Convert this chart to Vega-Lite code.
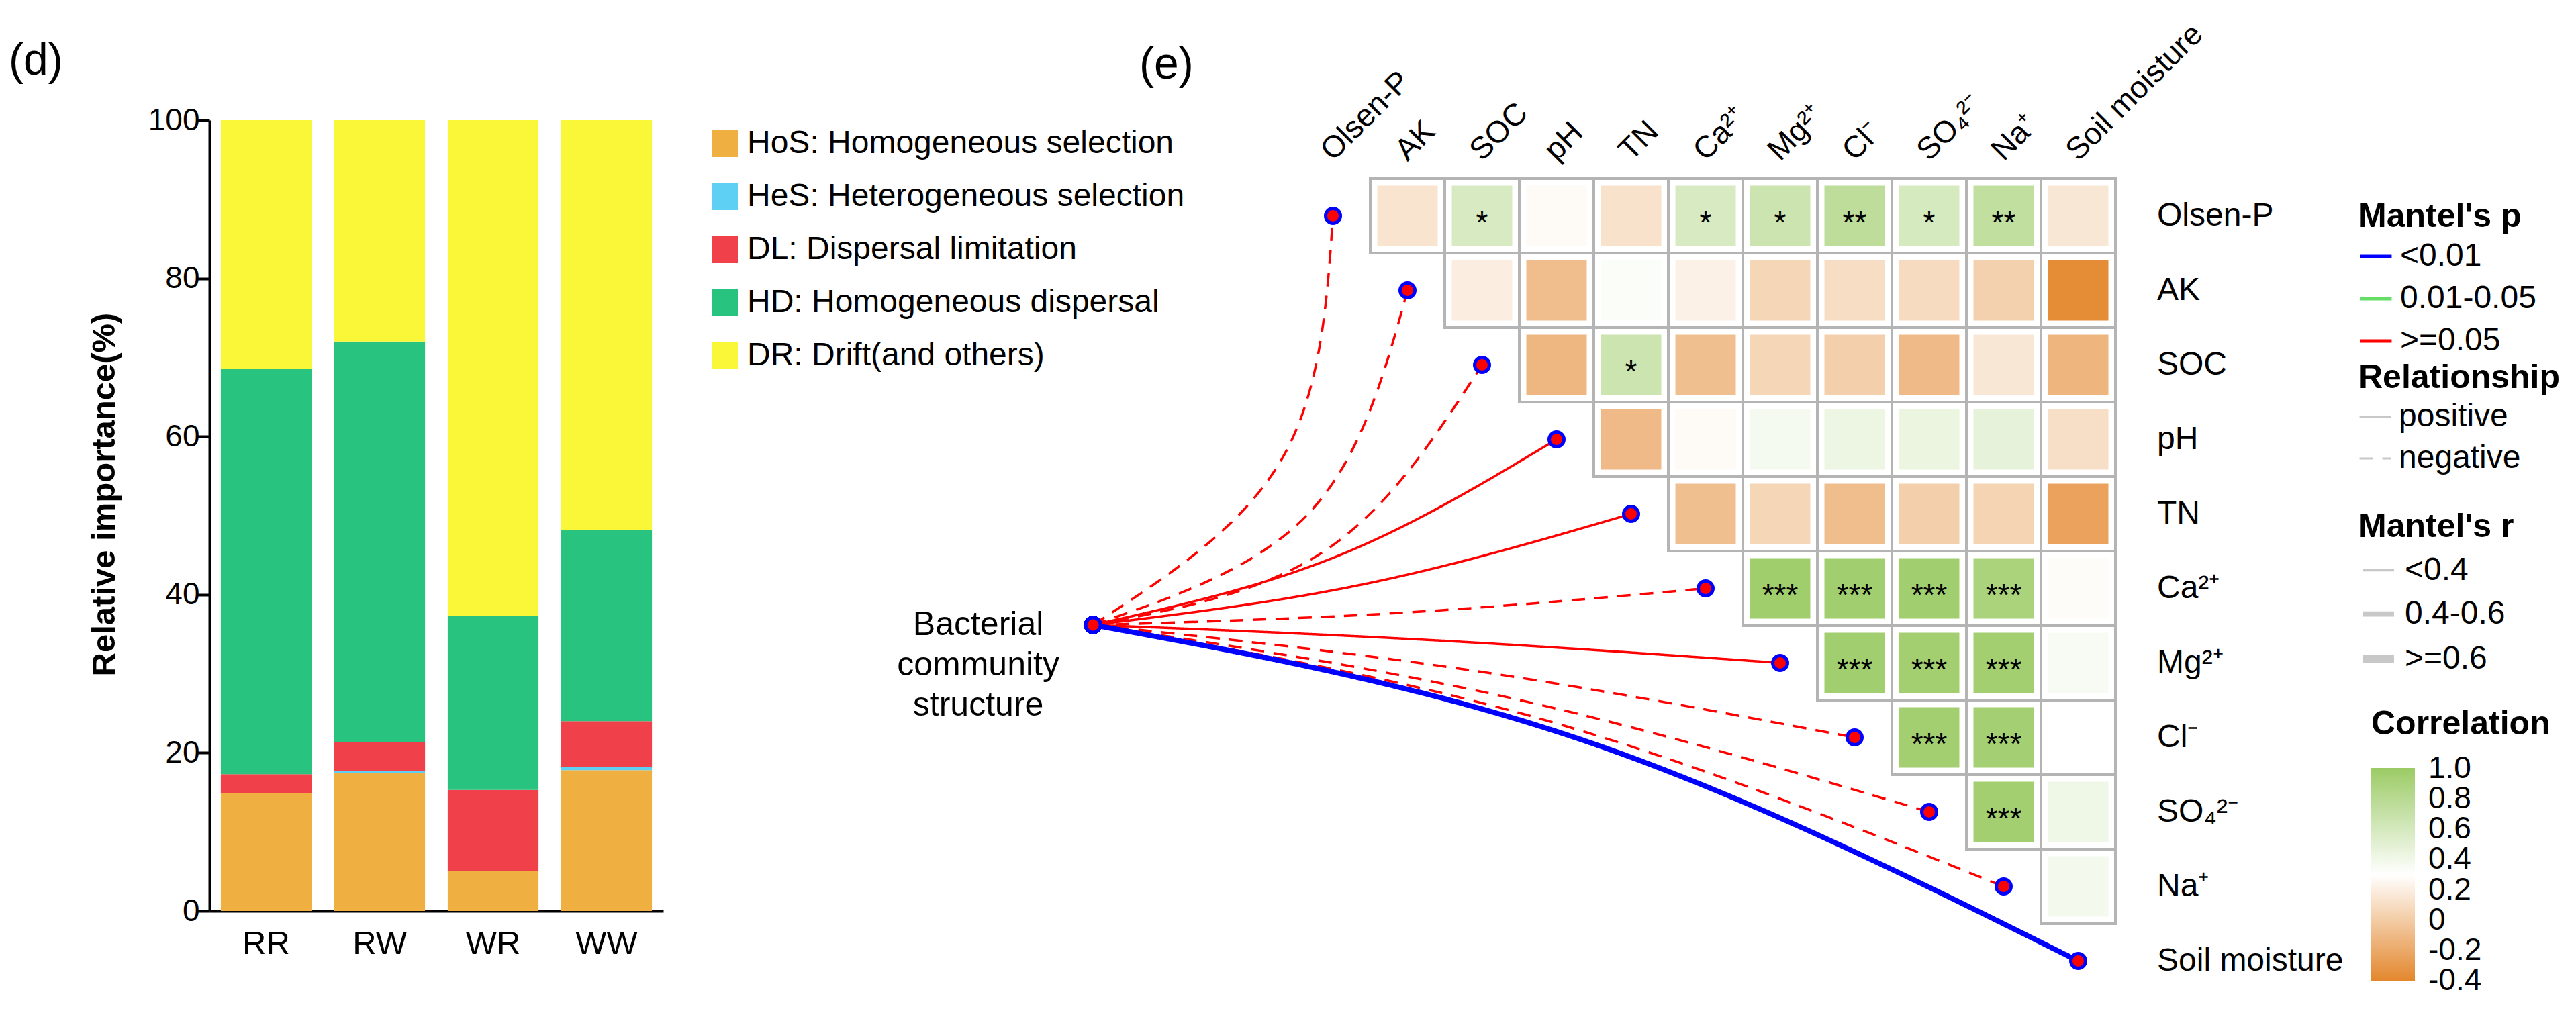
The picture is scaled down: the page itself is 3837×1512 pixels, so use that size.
{
  "$schema": "https://vega.github.io/schema/vega-lite/v6.json",
  "background": "white",
  "padding": {"left": 13, "top": 27, "right": 5, "bottom": 5},
  "bounds": "flush",
  "spacing": 331.5,
  "config": {
    "font": "Liberation Sans",
    "view": {"stroke": null},
    "legend": {"labelColor": "black", "titleColor": "black"}
  },
  "datasets": {
    "bars": [
      {"treatment": "RR", "process": "HoS: Homogeneous selection", "ord": 0, "importance": 14.9},
      {"treatment": "RR", "process": "HeS: Heterogeneous selection", "ord": 1, "importance": 0},
      {"treatment": "RR", "process": "DL: Dispersal limitation", "ord": 2, "importance": 2.4},
      {"treatment": "RR", "process": "HD: Homogeneous dispersal", "ord": 3, "importance": 51.3},
      {"treatment": "RR", "process": "DR: Drift(and others)", "ord": 4, "importance": 31.4},
      {"treatment": "RW", "process": "HoS: Homogeneous selection", "ord": 0, "importance": 17.4},
      {"treatment": "RW", "process": "HeS: Heterogeneous selection", "ord": 1, "importance": 0.35},
      {"treatment": "RW", "process": "DL: Dispersal limitation", "ord": 2, "importance": 3.65},
      {"treatment": "RW", "process": "HD: Homogeneous dispersal", "ord": 3, "importance": 50.6},
      {"treatment": "RW", "process": "DR: Drift(and others)", "ord": 4, "importance": 28.0},
      {"treatment": "WR", "process": "HoS: Homogeneous selection", "ord": 0, "importance": 5.1},
      {"treatment": "WR", "process": "HeS: Heterogeneous selection", "ord": 1, "importance": 0},
      {"treatment": "WR", "process": "DL: Dispersal limitation", "ord": 2, "importance": 10.2},
      {"treatment": "WR", "process": "HD: Homogeneous dispersal", "ord": 3, "importance": 22.0},
      {"treatment": "WR", "process": "DR: Drift(and others)", "ord": 4, "importance": 62.7},
      {"treatment": "WW", "process": "HoS: Homogeneous selection", "ord": 0, "importance": 17.8},
      {"treatment": "WW", "process": "HeS: Heterogeneous selection", "ord": 1, "importance": 0.4},
      {"treatment": "WW", "process": "DL: Dispersal limitation", "ord": 2, "importance": 5.8},
      {"treatment": "WW", "process": "HD: Homogeneous dispersal", "ord": 3, "importance": 24.2},
      {"treatment": "WW", "process": "DR: Drift(and others)", "ord": 4, "importance": 51.8}
    ],
    "cells": [
      {"row": 0, "col": 1, "r": 0.14, "sig": ""},
      {"row": 0, "col": 2, "r": 0.58, "sig": "*"},
      {"row": 0, "col": 3, "r": 0.27, "sig": ""},
      {"row": 0, "col": 4, "r": 0.13, "sig": ""},
      {"row": 0, "col": 5, "r": 0.58, "sig": "*"},
      {"row": 0, "col": 6, "r": 0.66, "sig": "*"},
      {"row": 0, "col": 7, "r": 0.76, "sig": "**"},
      {"row": 0, "col": 8, "r": 0.59, "sig": "*"},
      {"row": 0, "col": 9, "r": 0.74, "sig": "**"},
      {"row": 0, "col": 10, "r": 0.16, "sig": ""},
      {"row": 1, "col": 2, "r": 0.2, "sig": ""},
      {"row": 1, "col": 3, "r": -0.08, "sig": ""},
      {"row": 1, "col": 4, "r": 0.33, "sig": ""},
      {"row": 1, "col": 5, "r": 0.22, "sig": ""},
      {"row": 1, "col": 6, "r": 0.06, "sig": ""},
      {"row": 1, "col": 7, "r": 0.1, "sig": ""},
      {"row": 1, "col": 8, "r": 0.09, "sig": ""},
      {"row": 1, "col": 9, "r": 0.03, "sig": ""},
      {"row": 1, "col": 10, "r": -0.37, "sig": ""},
      {"row": 2, "col": 3, "r": -0.12, "sig": ""},
      {"row": 2, "col": 4, "r": 0.66, "sig": "*"},
      {"row": 2, "col": 5, "r": -0.07, "sig": ""},
      {"row": 2, "col": 6, "r": 0.06, "sig": ""},
      {"row": 2, "col": 7, "r": 0.02, "sig": ""},
      {"row": 2, "col": 8, "r": -0.1, "sig": ""},
      {"row": 2, "col": 9, "r": 0.16, "sig": ""},
      {"row": 2, "col": 10, "r": -0.13, "sig": ""},
      {"row": 3, "col": 4, "r": -0.1, "sig": ""},
      {"row": 3, "col": 5, "r": 0.27, "sig": ""},
      {"row": 3, "col": 6, "r": 0.37, "sig": ""},
      {"row": 3, "col": 7, "r": 0.43, "sig": ""},
      {"row": 3, "col": 8, "r": 0.44, "sig": ""},
      {"row": 3, "col": 9, "r": 0.47, "sig": ""},
      {"row": 3, "col": 10, "r": 0.11, "sig": ""},
      {"row": 4, "col": 5, "r": -0.07, "sig": ""},
      {"row": 4, "col": 6, "r": 0.06, "sig": ""},
      {"row": 4, "col": 7, "r": -0.08, "sig": ""},
      {"row": 4, "col": 8, "r": 0.02, "sig": ""},
      {"row": 4, "col": 9, "r": 0.05, "sig": ""},
      {"row": 4, "col": 10, "r": -0.24, "sig": ""},
      {"row": 5, "col": 6, "r": 0.97, "sig": "***"},
      {"row": 5, "col": 7, "r": 0.96, "sig": "***"},
      {"row": 5, "col": 8, "r": 0.96, "sig": "***"},
      {"row": 5, "col": 9, "r": 0.9, "sig": "***"},
      {"row": 5, "col": 10, "r": 0.28, "sig": ""},
      {"row": 6, "col": 7, "r": 0.96, "sig": "***"},
      {"row": 6, "col": 8, "r": 0.95, "sig": "***"},
      {"row": 6, "col": 9, "r": 0.95, "sig": "***"},
      {"row": 6, "col": 10, "r": 0.35, "sig": ""},
      {"row": 7, "col": 8, "r": 0.95, "sig": "***"},
      {"row": 7, "col": 9, "r": 0.94, "sig": "***"},
      {"row": 7, "col": 10, "r": 0.3, "sig": ""},
      {"row": 8, "col": 9, "r": 0.95, "sig": "***"},
      {"row": 8, "col": 10, "r": 0.41, "sig": ""},
      {"row": 9, "col": 10, "r": 0.38, "sig": ""}
    ],
    "links": [
      {"var": "Olsen-P", "k": 0, "col": -3.22, "row": 5.49, "p": ">=0.05", "rel": "negative", "rw": "<0.4"},
      {"var": "Olsen-P", "k": 1, "col": -0.698, "row": 3.284, "p": ">=0.05", "rel": "negative", "rw": "<0.4"},
      {"var": "Olsen-P", "k": 2, "col": 0, "row": 0, "p": ">=0.05", "rel": "negative", "rw": "<0.4"},
      {"var": "AK", "k": 0, "col": -3.22, "row": 5.49, "p": ">=0.05", "rel": "negative", "rw": "<0.4"},
      {"var": "AK", "k": 1, "col": -0.32, "row": 3.986, "p": ">=0.05", "rel": "negative", "rw": "<0.4"},
      {"var": "AK", "k": 2, "col": 1, "row": 1, "p": ">=0.05", "rel": "negative", "rw": "<0.4"},
      {"var": "SOC", "k": 0, "col": -3.22, "row": 5.49, "p": ">=0.05", "rel": "negative", "rw": "<0.4"},
      {"var": "SOC", "k": 1, "col": -0.104, "row": 4.491, "p": ">=0.05", "rel": "negative", "rw": "<0.4"},
      {"var": "SOC", "k": 2, "col": 2, "row": 2, "p": ">=0.05", "rel": "negative", "rw": "<0.4"},
      {"var": "pH", "k": 0, "col": -3.22, "row": 5.49, "p": ">=0.05", "rel": "positive", "rw": "<0.4"},
      {"var": "pH", "k": 1, "col": 0.023, "row": 4.581, "p": ">=0.05", "rel": "positive", "rw": "<0.4"},
      {"var": "pH", "k": 2, "col": 3, "row": 3, "p": ">=0.05", "rel": "positive", "rw": "<0.4"},
      {"var": "TN", "k": 0, "col": -3.22, "row": 5.49, "p": ">=0.05", "rel": "positive", "rw": "<0.4"},
      {"var": "TN", "k": 1, "col": 0.428, "row": 4.941, "p": ">=0.05", "rel": "positive", "rw": "<0.4"},
      {"var": "TN", "k": 2, "col": 4, "row": 4, "p": ">=0.05", "rel": "positive", "rw": "<0.4"},
      {"var": "Ca", "k": 0, "col": -3.22, "row": 5.49, "p": ">=0.05", "rel": "negative", "rw": "<0.4"},
      {"var": "Ca", "k": 1, "col": 0.887, "row": 5.329, "p": ">=0.05", "rel": "negative", "rw": "<0.4"},
      {"var": "Ca", "k": 2, "col": 5, "row": 5, "p": ">=0.05", "rel": "negative", "rw": "<0.4"},
      {"var": "Mg", "k": 0, "col": -3.22, "row": 5.49, "p": ">=0.05", "rel": "positive", "rw": "<0.4"},
      {"var": "Mg", "k": 1, "col": 1.392, "row": 5.698, "p": ">=0.05", "rel": "positive", "rw": "<0.4"},
      {"var": "Mg", "k": 2, "col": 6, "row": 6, "p": ">=0.05", "rel": "positive", "rw": "<0.4"},
      {"var": "Cl", "k": 0, "col": -3.22, "row": 5.49, "p": ">=0.05", "rel": "negative", "rw": "<0.4"},
      {"var": "Cl", "k": 1, "col": 1.887, "row": 6.104, "p": ">=0.05", "rel": "negative", "rw": "<0.4"},
      {"var": "Cl", "k": 2, "col": 7, "row": 7, "p": ">=0.05", "rel": "negative", "rw": "<0.4"},
      {"var": "SO4", "k": 0, "col": -3.22, "row": 5.49, "p": ">=0.05", "rel": "negative", "rw": "<0.4"},
      {"var": "SO4", "k": 1, "col": 2.392, "row": 6.473, "p": ">=0.05", "rel": "negative", "rw": "<0.4"},
      {"var": "SO4", "k": 2, "col": 8, "row": 8, "p": ">=0.05", "rel": "negative", "rw": "<0.4"},
      {"var": "Na", "k": 0, "col": -3.22, "row": 5.49, "p": ">=0.05", "rel": "negative", "rw": "<0.4"},
      {"var": "Na", "k": 1, "col": 2.887, "row": 6.779, "p": ">=0.05", "rel": "negative", "rw": "<0.4"},
      {"var": "Na", "k": 2, "col": 9, "row": 9, "p": ">=0.05", "rel": "negative", "rw": "<0.4"},
      {"var": "Soil moisture", "k": 0, "col": -3.22, "row": 5.49, "p": "<0.01", "rel": "positive", "rw": "0.4-0.6"},
      {"var": "Soil moisture", "k": 1, "col": 3.392, "row": 7.05, "p": "<0.01", "rel": "positive", "rw": "0.4-0.6"},
      {"var": "Soil moisture", "k": 2, "col": 10, "row": 10, "p": "<0.01", "rel": "positive", "rw": "0.4-0.6"}
    ],
    "vars": [
      {"name": "Olsen-P", "col": 0, "row": 0},
      {"name": "AK", "col": 1, "row": 1},
      {"name": "SOC", "col": 2, "row": 2},
      {"name": "pH", "col": 3, "row": 3},
      {"name": "TN", "col": 4, "row": 4},
      {"name": "Ca²⁺", "col": 5, "row": 5},
      {"name": "Mg²⁺", "col": 6, "row": 6},
      {"name": "Cl⁻", "col": 7, "row": 7},
      {"name": "SO₄²⁻", "col": 8, "row": 8},
      {"name": "Na⁺", "col": 9, "row": 9},
      {"name": "Soil moisture", "col": 10, "row": 10}
    ],
    "node": [
      {"name": "Bacterial community structure", "col": -3.22, "row": 5.49}
    ]
  },
  "hconcat": [
    {
      "width": 676,
      "height": 1178,
      "title": {"text": "(d)", "anchor": "start", "frame": "group", "fontSize": 66, "fontWeight": "normal", "color": "black", "dx": -299, "offset": 31},
      "data": {"name": "bars"},
      "mark": {"type": "bar"},
      "encoding": {
        "x": {
          "field": "treatment", "type": "nominal", "sort": ["RR", "RW", "WR", "WW"],
          "scale": {"paddingInner": 0.2, "paddingOuter": 0.1},
          "axis": {"title": null, "labelAngle": 0, "ticks": false, "tickSize": 0, "domainColor": "black", "domainWidth": 4, "labelFontSize": 49, "labelColor": "black", "labelPadding": 24}
        },
        "y": {
          "field": "importance", "type": "quantitative", "stack": "zero",
          "scale": {"domain": [0, 100], "nice": false},
          "axis": {"title": "Relative importance(%)", "titleFontSize": 49, "titleFontWeight": "bold", "titleColor": "black", "titlePadding": 40, "titleY": 557,
                   "values": [0, 20, 40, 60, 80, 100], "grid": false, "tickSize": 20, "tickWidth": 4, "tickColor": "black",
                   "domainColor": "black", "domainWidth": 4, "labelFontSize": 46, "labelColor": "black", "labelPadding": -5}
        },
        "color": {
          "field": "process", "type": "nominal",
          "scale": {
            "domain": ["HoS: Homogeneous selection", "HeS: Heterogeneous selection", "DL: Dispersal limitation", "HD: Homogeneous dispersal", "DR: Drift(and others)"],
            "range": ["#EFAF41", "#5DD0F3", "#F0414A", "#28C47F", "#F9F738"]
          },
          "legend": {"title": null, "orient": "none", "legendX": 744, "legendY": 11, "symbolType": "square", "symbolSize": 1600, "symbolStrokeWidth": 0, "symbolOpacity": 1,
                     "labelFontSize": 48, "labelOffset": 9, "rowPadding": 31, "labelLimit": 1000, "padding": 0}
        },
        "order": {"field": "ord", "type": "quantitative"}
      }
    },
    {
      "width": 1831.5,
      "height": 1308,
      "title": {"text": "(e)", "anchor": "start", "frame": "group", "fontSize": 66, "fontWeight": "normal", "color": "black", "dx": 377.5, "offset": -104},
      "encoding": {
        "x": {"field": "col", "type": "quantitative", "scale": {"domain": [-6, 10.5], "nice": false, "zero": false}, "axis": null},
        "y": {"field": "row", "type": "quantitative", "scale": {"domain": [-1.2838, 10.5], "nice": false, "zero": false, "reverse": true}, "axis": null}
      },
      "layer": [
        {
          "data": {"name": "cells"},
          "mark": {"type": "square", "size": 12321, "fill": "white", "stroke": "#b4b4b4", "strokeWidth": 4, "opacity": 1}
        },
        {
          "data": {"name": "cells"},
          "mark": {"type": "square", "size": 8100, "opacity": 1, "strokeWidth": 0},
          "encoding": {
            "fill": {
              "field": "r", "type": "quantitative",
              "scale": {"type": "linear", "domain": [-0.405, 0.3, 1.005], "range": ["#E3862B", "#FFFFFF", "#9BCB65"], "interpolate": "rgb"},
              "legend": {"title": "Correlation", "orient": "none", "direction": "vertical", "legendX": 3220, "legendY": 875, "padding": 0,
                         "titleFontSize": 50, "titleFontWeight": "bold", "titlePadding": 40, "titleLimit": 1000,
                         "gradientLength": 318, "gradientThickness": 65, "gradientStrokeWidth": 0,
                         "labelFontSize": 46, "labelOffset": 20, "labelOverlap": false,
                         "values": [-0.4, -0.2, 0, 0.2, 0.4, 0.6, 0.8, 1.0],
                         "labelExpr": "datum.value == 0 ? '0' : (datum.value < 0 ? '-' + format(-datum.value, '.1f') : format(datum.value, '.1f'))"}
            }
          }
        },
        {
          "data": {"name": "cells"},
          "transform": [{"filter": "datum.sig != ''"}],
          "mark": {"type": "text", "fontSize": 46, "baseline": "middle", "align": "center", "dy": 11, "color": "black"},
          "encoding": {"text": {"field": "sig"}}
        },
        {
          "data": {"name": "links"},
          "mark": {"type": "line", "interpolate": "natural"},
          "encoding": {
            "detail": {"field": "var"},
            "order": {"field": "k", "type": "quantitative"},
            "stroke": {
              "field": "p", "type": "nominal",
              "scale": {"domain": ["<0.01", "0.01-0.05", ">=0.05"], "range": ["#0000FF", "#66DD66", "#FF0000"]},
              "legend": {"title": "Mantel's p", "orient": "none", "legendX": 3201, "legendY": 119, "padding": 0, "symbolType": "stroke", "symbolSize": 2200, "symbolStrokeWidth": 5,
                         "titleFontSize": 50, "titleFontWeight": "bold", "titlePadding": 8, "titleLimit": 1000, "labelFontSize": 48, "labelOffset": 10, "rowPadding": 13, "labelLimit": 1000}
            },
            "strokeDash": {
              "field": "rel", "type": "nominal",
              "scale": {"domain": ["positive", "negative"], "range": [[1, 0], [20, 14]]},
              "legend": {"title": "Relationship", "orient": "none", "legendX": 3201, "legendY": 359, "padding": 0, "symbolType": "stroke", "symbolSize": 2200, "symbolStrokeWidth": 3, "symbolStrokeColor": "#c8c8c8",
                         "titleFontSize": 50, "titleFontWeight": "bold", "titlePadding": 8, "titleLimit": 1000, "labelFontSize": 48, "labelOffset": 10, "rowPadding": 13, "labelLimit": 1000}
            },
            "strokeWidth": {
              "field": "rw", "type": "ordinal",
              "scale": {"type": "point", "domain": ["<0.4", "0.4-0.6", ">=0.6"], "range": [3.5, 12], "padding": 0},
              "legend": {"title": "Mantel's r", "orient": "none", "legendX": 3201, "legendY": 581, "padding": 0, "symbolType": "stroke", "symbolSize": 2200, "symbolStrokeColor": "#c8c8c8",
                         "titleFontSize": 50, "titleFontWeight": "bold", "titlePadding": 14, "titleLimit": 1000, "labelFontSize": 48, "labelOffset": 10, "rowPadding": 13, "labelLimit": 1000}
            }
          }
        },
        {
          "data": {"name": "links"},
          "transform": [{"filter": "datum.k != 1"}],
          "mark": {"type": "circle", "size": 484, "fill": "#FF0000", "stroke": "#0000FF", "strokeWidth": 5, "opacity": 1}
        },
        {
          "data": {"name": "vars"},
          "mark": {"type": "text", "align": "left", "baseline": "middle", "fontSize": 48, "dx": 62, "color": "black"},
          "encoding": {"x": {"datum": 10.5, "type": "quantitative"}, "text": {"field": "name"}}
        },
        {
          "data": {"name": "vars"},
          "mark": {"type": "text", "align": "left", "baseline": "alphabetic", "angle": 315, "fontSize": 46, "color": "black"},
          "encoding": {"y": {"datum": -0.72, "type": "quantitative"}, "text": {"field": "name"}}
        },
        {
          "data": {"name": "node"},
          "mark": {"type": "text", "align": "center", "baseline": "middle", "fontSize": 50, "lineBreak": " ", "lineHeight": 60, "dx": -171, "color": "black"},
          "encoding": {"text": {"field": "name"}}
        }
      ]
    }
  ]
}
